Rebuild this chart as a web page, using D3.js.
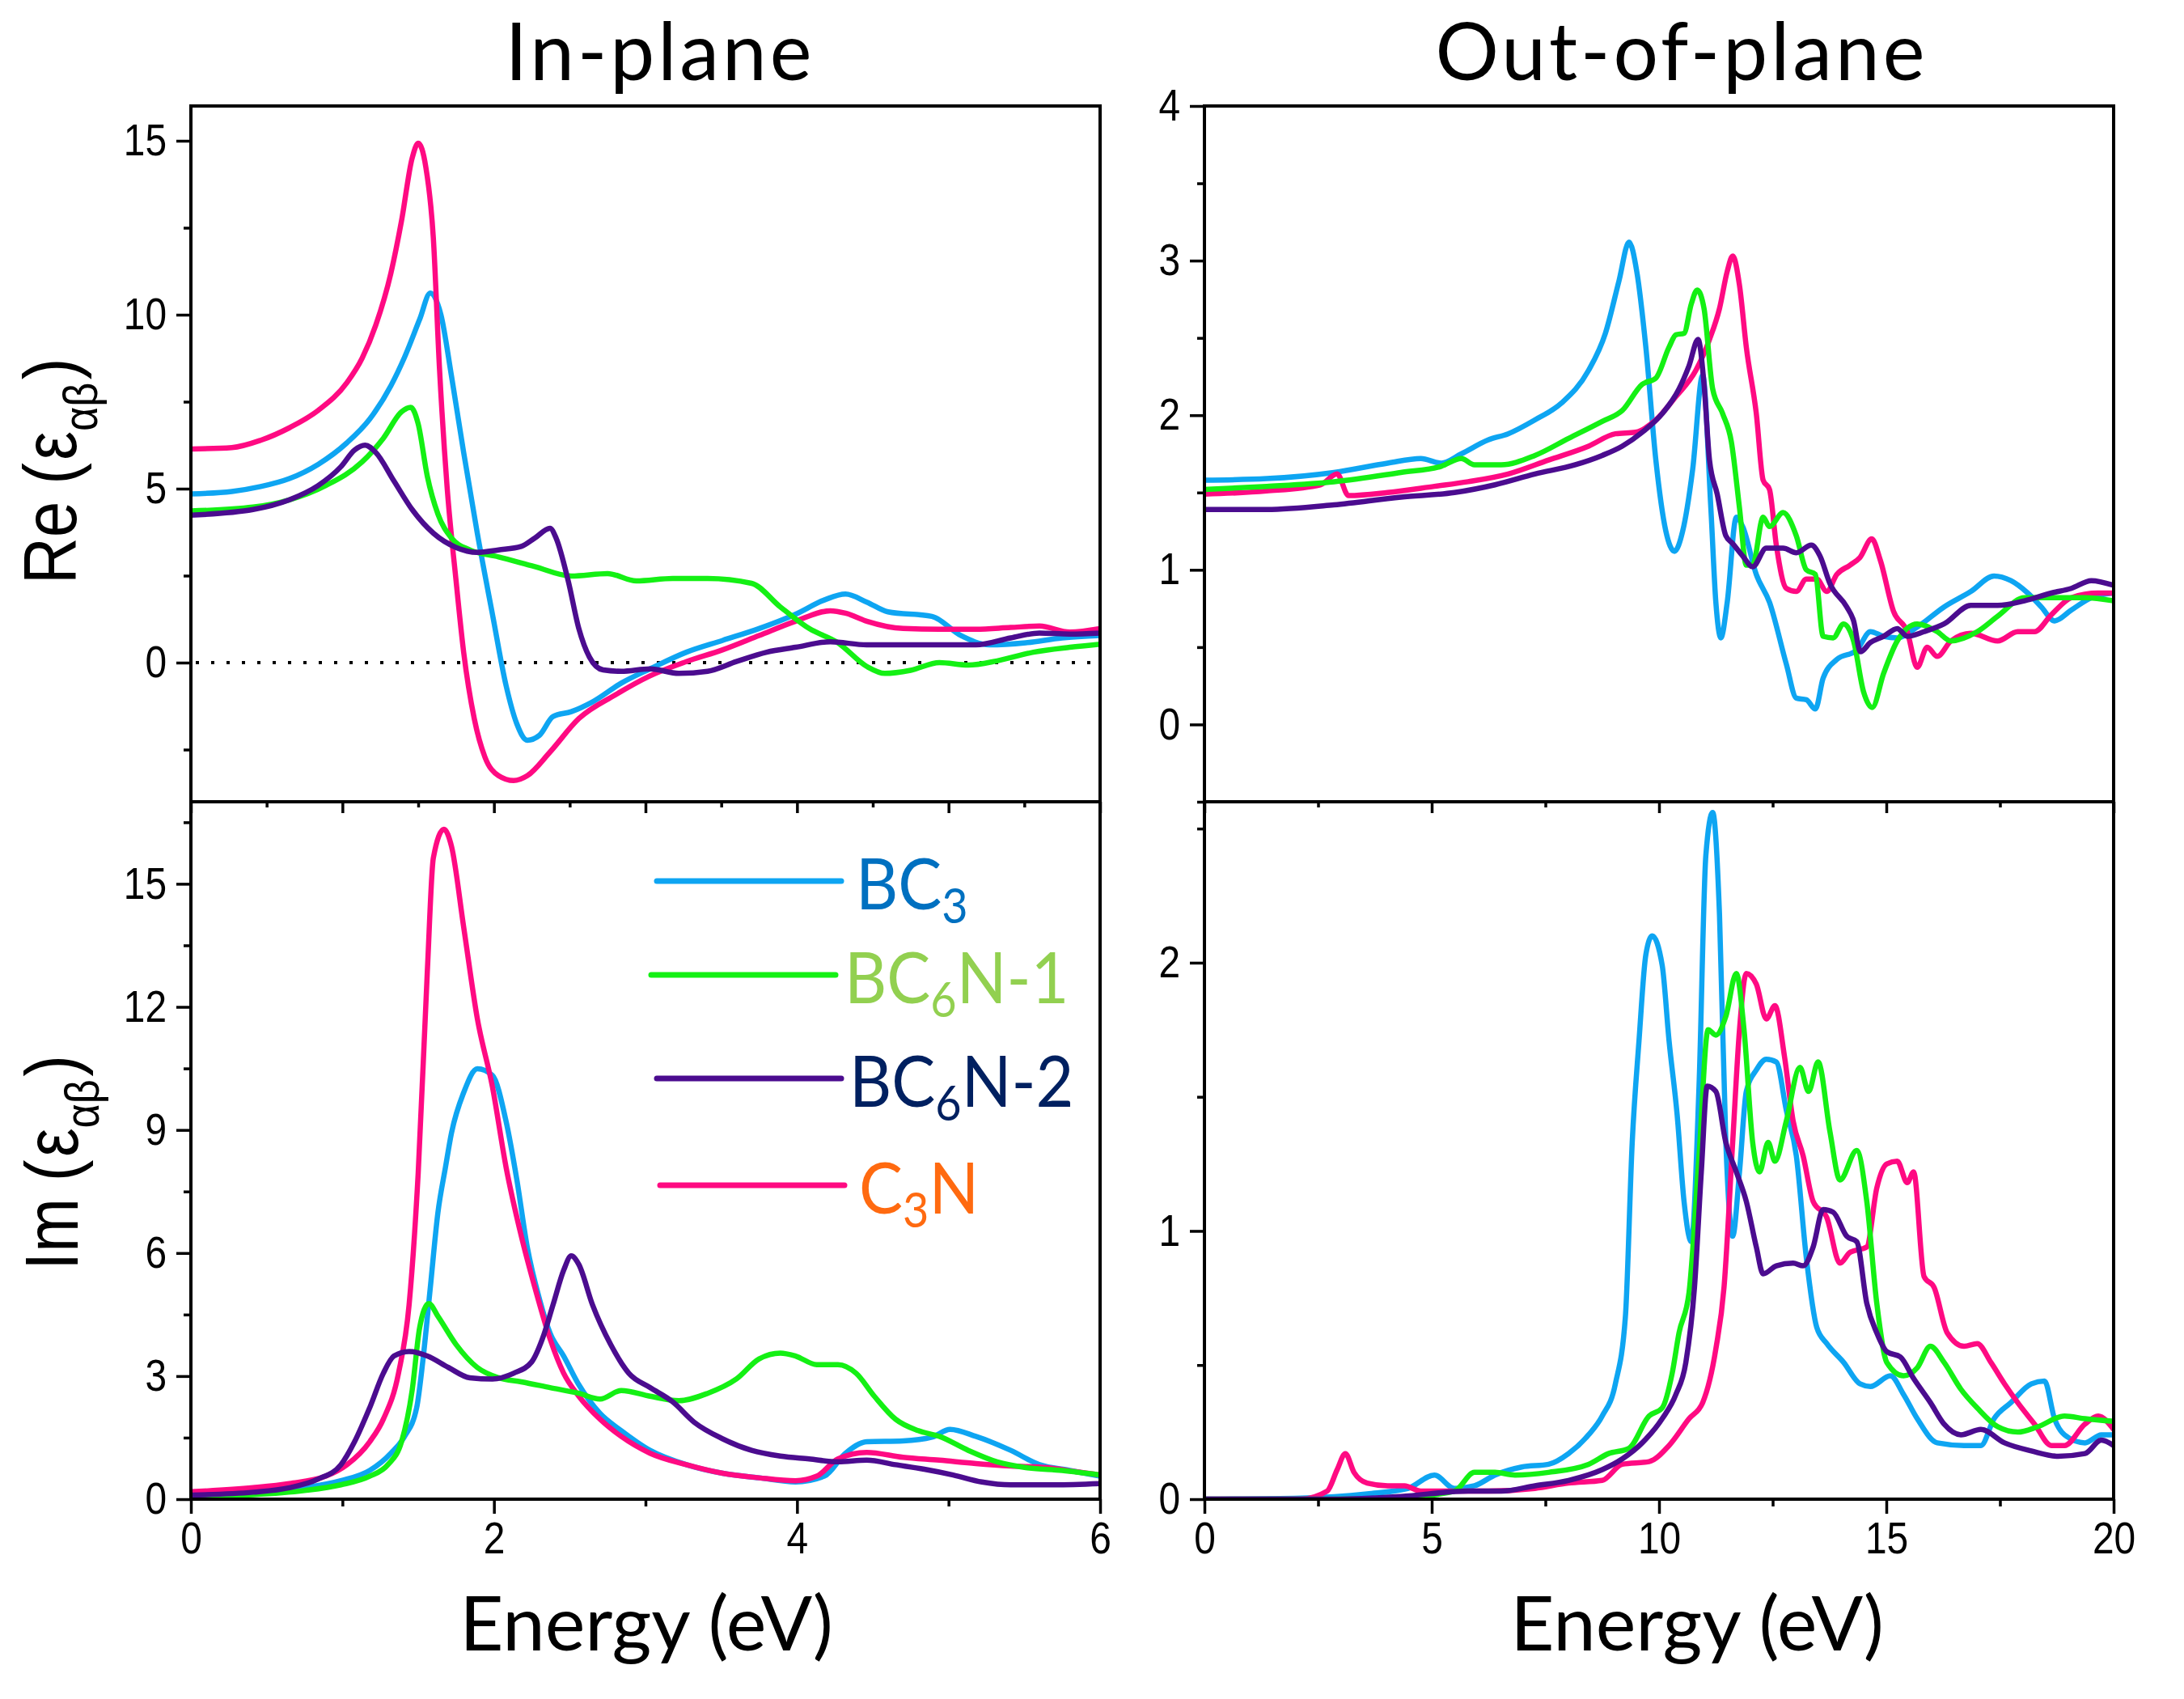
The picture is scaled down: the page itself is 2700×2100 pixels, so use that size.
<!DOCTYPE html>
<html>
<head>
<meta charset="utf-8">
<script src="https://cdn.jsdelivr.net/npm/d3@7"></script>
<style>
  body { margin: 0; background: #fff; }
  svg { display: block; }
</style>
</head>
<body>
<svg id="chart" width="2700" height="2100"></svg>
<script>
// ---- data ----
const materials = ["BC3", "BC6N-1", "BC6N-2", "C3N"];
const lineColors = { "BC3": "#0ea5f2", "BC6N-1": "#14f014", "BC6N-2": "#4b0c8f", "C3N": "#ff0a82" };
const legendColors = { "BC3": "#0070c0", "BC6N-1": "#92d050", "BC6N-2": "#002060", "C3N": "#ff6a10" };
const drawOrder = ["BC3", "C3N", "BC6N-1", "BC6N-2"];

// In-plane, real part
const reInBC3 = [[0,4.85],[0.27,4.92],[0.46,5.06],[0.65,5.29],[0.84,5.70],[1.03,6.32],[1.18,7.0],[1.32,7.96],[1.41,8.78],[1.51,9.87],[1.58,10.62],[1.65,10.0],[1.72,8.23],[1.80,6.04],[1.89,3.72],[1.99,1.39],[2.08,-0.66],[2.15,-1.75],[2.22,-2.23],[2.30,-2.09],[2.39,-1.55],[2.51,-1.41],[2.65,-1.13],[2.84,-0.59],[3.03,-0.18],[3.27,0.30],[3.51,0.64],[3.75,0.98],[3.99,1.39],[4.18,1.80],[4.32,1.97],[4.46,1.74],[4.60,1.46],[4.89,1.33],[5.08,0.78],[5.27,0.51],[5.51,0.57],[5.75,0.71],[6,0.78]];
const reInBC6N1 = [[0,4.36],[0.41,4.47],[0.65,4.68],[0.89,5.09],[1.13,5.77],[1.27,6.45],[1.39,7.21],[1.45,7.34],[1.50,6.86],[1.56,5.36],[1.63,4.27],[1.72,3.58],[1.84,3.24],[2.03,3.04],[2.27,2.76],[2.51,2.49],[2.75,2.56],[2.94,2.35],[3.18,2.42],[3.41,2.42],[3.70,2.28],[3.89,1.60],[4.08,0.98],[4.27,0.57],[4.46,-0.11],[4.58,-0.31],[4.75,-0.22],[4.94,0],[5.13,-0.07],[5.32,0.05],[5.56,0.30],[5.80,0.44],[6,0.53]];
const reInBC6N2 = [[0,4.24],[0.41,4.40],[0.65,4.68],[0.84,5.09],[0.99,5.63],[1.08,6.11],[1.15,6.25],[1.22,6.04],[1.34,5.22],[1.46,4.40],[1.60,3.72],[1.75,3.31],[1.89,3.17],[2.03,3.24],[2.18,3.34],[2.27,3.58],[2.37,3.86],[2.41,3.58],[2.49,2.35],[2.56,0.98],[2.63,0.16],[2.72,-0.21],[2.84,-0.25],[3.03,-0.18],[3.22,-0.31],[3.41,-0.25],[3.60,0.03],[3.80,0.30],[3.99,0.44],[4.22,0.60],[4.46,0.51],[4.75,0.51],[5.18,0.51],[5.41,0.71],[5.60,0.85],[5.80,0.82],[6,0.85]];
const reInC3N = [[0,6.14],[0.27,6.18],[0.46,6.39],[0.65,6.75],[0.84,7.25],[1.03,8.05],[1.13,8.75],[1.22,9.7],[1.32,11.2],[1.39,12.7],[1.46,14.5],[1.50,14.93],[1.55,14.25],[1.60,12.2],[1.64,8.5],[1.69,5.09],[1.75,2.35],[1.80,0.3],[1.87,-1.61],[1.94,-2.71],[2.03,-3.25],[2.13,-3.39],[2.22,-3.25],[2.37,-2.57],[2.56,-1.61],[2.80,-0.93],[3.03,-0.38],[3.27,0.03],[3.51,0.37],[3.75,0.78],[3.99,1.19],[4.22,1.49],[4.32,1.42],[4.46,1.19],[4.70,0.98],[4.94,0.96],[5.18,0.96],[5.41,1.01],[5.60,1.05],[5.80,0.88],[6,0.98]];

// Out-of-plane, real part
const reOutBC3 = [[0,1.58],[1.37,1.59],[2.85,1.63],[4.03,1.69],[4.76,1.72],[5.21,1.69],[5.65,1.75],[6.24,1.84],[6.68,1.88],[7.27,1.97],[7.86,2.08],[8.45,2.29],[8.82,2.53],[9.12,2.87],[9.34,3.12],[9.51,2.93],[9.71,2.44],[9.93,1.71],[10.15,1.25],[10.34,1.12],[10.52,1.25],[10.74,1.65],[10.96,2.26],[11.14,1.40],[11.25,0.79],[11.36,0.56],[11.50,0.79],[11.70,1.34],[11.84,1.28],[12.14,0.97],[12.43,0.79],[12.80,0.39],[13.02,0.17],[13.24,0.16],[13.44,0.10],[13.61,0.30],[13.91,0.42],[14.35,0.48],[14.65,0.60],[14.94,0.57],[15.24,0.56],[15.68,0.63],[16.27,0.76],[16.86,0.86],[17.37,0.96],[17.74,0.93],[18.11,0.85],[18.41,0.76],[18.70,0.67],[19.07,0.74],[19.51,0.82],[20,0.85]];
const reOutBC6N1 = [[0,1.52],[1.37,1.54],[2.85,1.57],[4.32,1.63],[5.21,1.67],[5.65,1.72],[5.94,1.68],[6.53,1.68],[7.27,1.74],[8.01,1.85],[8.75,1.96],[9.19,2.03],[9.63,2.20],[9.93,2.24],[10.22,2.44],[10.37,2.52],[10.55,2.53],[10.71,2.72],[10.84,2.81],[10.99,2.69],[11.18,2.17],[11.40,2.01],[11.59,1.83],[11.77,1.40],[11.92,1.03],[12.06,1.03],[12.29,1.34],[12.43,1.28],[12.73,1.37],[13.02,1.22],[13.24,1.00],[13.44,0.97],[13.61,0.57],[13.83,0.56],[14.06,0.65],[14.28,0.54],[14.50,0.21],[14.69,0.11],[14.94,0.33],[15.24,0.54],[15.68,0.65],[16.12,0.60],[16.42,0.54],[17.0,0.60],[17.45,0.70],[18.04,0.82],[18.78,0.82],[19.37,0.82],[20,0.80]];
const reOutBC6N2 = [[0,1.39],[1.37,1.39],[2.85,1.42],[4.32,1.47],[5.50,1.50],[6.39,1.55],[7.27,1.62],[8.16,1.68],[8.75,1.74],[9.19,1.80],[9.63,1.89],[10.07,2.01],[10.44,2.17],[10.66,2.32],[10.86,2.49],[10.99,2.20],[11.11,1.71],[11.28,1.49],[11.47,1.22],[11.62,1.17],[11.84,1.09],[12.06,1.02],[12.36,1.14],[12.73,1.14],[13.02,1.11],[13.35,1.16],[13.54,1.09],[13.76,0.91],[14.13,0.76],[14.28,0.67],[14.43,0.47],[14.65,0.53],[14.94,0.57],[15.24,0.62],[15.46,0.57],[15.83,0.60],[16.27,0.65],[16.86,0.77],[17.45,0.77],[18.04,0.80],[18.63,0.85],[19.07,0.88],[19.51,0.93],[20,0.90]];
const reOutC3N = [[0,1.49],[1.37,1.51],[2.55,1.55],[2.92,1.62],[3.17,1.48],[4.03,1.50],[5.06,1.54],[5.80,1.57],[6.68,1.62],[7.57,1.71],[8.45,1.80],[9.04,1.88],[9.48,1.89],[9.93,1.97],[10.37,2.12],[10.81,2.29],[11.11,2.49],[11.33,2.69],[11.50,2.93],[11.62,3.03],[11.77,2.84],[11.92,2.44],[12.14,2.01],[12.29,1.58],[12.43,1.52],[12.58,1.16],[12.80,0.88],[13.02,0.86],[13.24,0.94],[13.47,0.94],[13.69,0.86],[13.91,0.97],[14.20,1.03],[14.42,1.08],[14.68,1.20],[14.87,1.06],[15.16,0.73],[15.46,0.60],[15.68,0.37],[15.90,0.50],[16.12,0.44],[16.42,0.54],[16.86,0.59],[17.45,0.54],[17.89,0.60],[18.26,0.60],[18.63,0.71],[19.07,0.82],[19.66,0.85],[20,0.85]];

// In-plane, imaginary part
const imInBC3 = [[0,0.11],[0.41,0.18],[0.75,0.28],[0.99,0.45],[1.18,0.70],[1.32,1.12],[1.41,1.53],[1.49,2.23],[1.53,3.35],[1.58,5.16],[1.63,6.98],[1.68,8.09],[1.72,8.93],[1.80,9.91],[1.89,10.49],[1.99,10.33],[2.08,9.21],[2.15,7.81],[2.22,6.14],[2.30,4.88],[2.37,4.05],[2.46,3.49],[2.56,2.79],[2.70,2.09],[2.84,1.67],[3.03,1.19],[3.27,0.84],[3.51,0.63],[3.75,0.52],[3.99,0.42],[4.18,0.56],[4.32,1.12],[4.46,1.40],[4.70,1.42],[4.89,1.51],[5.01,1.70],[5.18,1.53],[5.41,1.19],[5.60,0.84],[5.80,0.70],[6,0.56]];
const imInBC6N1 = [[0,0.07],[0.41,0.11],[0.75,0.21],[0.99,0.35],[1.18,0.56],[1.30,0.84],[1.39,1.40],[1.46,2.65],[1.51,4.19],[1.57,4.77],[1.63,4.46],[1.75,3.77],[1.89,3.21],[2.03,2.96],[2.18,2.86],[2.37,2.72],[2.56,2.58],[2.70,2.44],[2.84,2.65],[3.03,2.51],[3.22,2.40],[3.41,2.58],[3.60,2.93],[3.75,3.42],[3.89,3.56],[3.99,3.49],[4.13,3.28],[4.27,3.28],[4.39,3.07],[4.51,2.51],[4.65,1.95],[4.80,1.67],[4.94,1.53],[5.13,1.19],[5.32,0.91],[5.51,0.77],[5.75,0.70],[6,0.59]];
const imInBC6N2 = [[0,0.10],[0.41,0.17],[0.65,0.28],[0.84,0.49],[0.99,0.84],[1.08,1.40],[1.18,2.23],[1.27,3.07],[1.34,3.49],[1.44,3.60],[1.56,3.49],[1.70,3.21],[1.84,2.96],[1.99,2.93],[2.13,3.07],[2.25,3.35],[2.32,3.91],[2.39,4.74],[2.46,5.58],[2.51,5.93],[2.56,5.72],[2.65,4.74],[2.77,3.77],[2.89,3.07],[3.03,2.72],[3.18,2.37],[3.32,1.88],[3.51,1.47],[3.70,1.19],[3.89,1.05],[4.08,0.98],[4.27,0.91],[4.46,0.95],[4.65,0.84],[4.84,0.73],[5.03,0.59],[5.22,0.42],[5.41,0.35],[5.70,0.35],[6,0.38]];
const imInC3N = [[0,0.18],[0.41,0.28],[0.65,0.38],[0.89,0.56],[1.03,0.84],[1.18,1.40],[1.27,1.95],[1.37,3.07],[1.44,4.74],[1.50,7.95],[1.56,12.84],[1.60,15.63],[1.67,16.33],[1.72,15.91],[1.80,13.95],[1.89,11.72],[1.99,10.05],[2.08,8.09],[2.18,6.42],[2.27,5.16],[2.37,3.91],[2.46,3.07],[2.56,2.51],[2.70,1.95],[2.84,1.53],[3.03,1.12],[3.27,0.84],[3.51,0.63],[3.75,0.52],[3.99,0.45],[4.13,0.56],[4.27,0.98],[4.46,1.14],[4.70,1.02],[4.94,0.95],[5.18,0.87],[5.41,0.81],[5.65,0.77],[5.84,0.67],[6,0.59]];

// Out-of-plane, imaginary part
const imOutBC3 = [[0,0],[2.11,0.004],[3.58,0.02],[4.47,0.04],[5.06,0.09],[5.50,0.04],[5.94,0.05],[6.39,0.09],[6.98,0.12],[7.57,0.13],[8.01,0.17],[8.45,0.24],[8.75,0.31],[9.04,0.43],[9.26,0.68],[9.41,1.33],[9.56,1.71],[9.71,2.03],[9.85,2.10],[10.07,1.99],[10.22,1.71],[10.40,1.43],[10.55,1.11],[10.71,0.96],[10.88,1.54],[11.03,2.40],[11.18,2.56],[11.33,2.18],[11.47,1.33],[11.62,0.98],[11.77,1.22],[11.92,1.52],[12.14,1.60],[12.36,1.64],[12.58,1.63],[12.80,1.45],[13.02,1.28],[13.24,0.90],[13.47,0.64],[13.69,0.58],[14.06,0.51],[14.42,0.43],[14.65,0.42],[15.09,0.46],[15.38,0.39],[15.68,0.30],[16.12,0.21],[16.71,0.20],[17.08,0.20],[17.37,0.30],[17.74,0.36],[18.19,0.43],[18.48,0.44],[18.70,0.30],[18.92,0.24],[19.37,0.21],[19.73,0.24],[20,0.24]];
const imOutBC6N1 = [[0,0],[2.85,0],[4.32,0.005],[5.50,0.03],[5.94,0.10],[6.39,0.10],[6.83,0.09],[7.57,0.10],[8.45,0.13],[8.89,0.17],[9.34,0.19],[9.78,0.31],[10.07,0.34],[10.29,0.47],[10.44,0.62],[10.66,0.77],[10.88,1.28],[11.08,1.75],[11.25,1.73],[11.47,1.80],[11.70,1.96],[11.87,1.75],[12.06,1.33],[12.21,1.22],[12.40,1.33],[12.55,1.26],[12.80,1.41],[13.10,1.61],[13.29,1.52],[13.50,1.63],[13.76,1.37],[13.98,1.19],[14.35,1.30],[14.57,1.11],[14.79,0.73],[15.01,0.51],[15.38,0.46],[15.68,0.49],[15.97,0.57],[16.27,0.51],[16.64,0.41],[17.0,0.34],[17.45,0.27],[17.89,0.25],[18.33,0.27],[18.92,0.31],[19.37,0.30],[20,0.29]];
const imOutBC6N2 = [[0,0],[2.85,0],[4.32,0.01],[5.80,0.03],[6.53,0.03],[7.27,0.05],[8.01,0.07],[8.75,0.11],[9.19,0.15],[9.63,0.21],[10.07,0.30],[10.37,0.39],[10.59,0.51],[10.78,0.79],[10.93,1.22],[11.06,1.54],[11.25,1.52],[11.47,1.33],[11.70,1.22],[11.92,1.11],[12.14,0.94],[12.29,0.84],[12.58,0.87],[12.95,0.88],[13.17,0.87],[13.39,0.94],[13.61,1.08],[13.83,1.07],[14.13,0.98],[14.35,0.96],[14.57,0.73],[14.79,0.62],[15.01,0.55],[15.31,0.53],[15.60,0.45],[15.97,0.36],[16.27,0.28],[16.64,0.24],[17.08,0.26],[17.60,0.21],[18.19,0.18],[18.78,0.16],[19.37,0.17],[19.73,0.22],[20,0.20]];
const imOutC3N = [[0,0],[2.11,0],[2.70,0.03],[2.92,0.11],[3.10,0.17],[3.29,0.10],[3.58,0.06],[4.03,0.05],[4.40,0.05],[4.76,0.03],[5.50,0.03],[6.24,0.03],[7.27,0.04],[8.01,0.06],[8.75,0.07],[9.19,0.13],[9.78,0.14],[10.22,0.20],[10.66,0.30],[10.96,0.36],[11.25,0.56],[11.43,0.79],[11.62,1.33],[11.77,1.75],[11.92,1.96],[12.14,1.92],[12.36,1.79],[12.55,1.84],[12.76,1.65],[12.95,1.41],[13.17,1.28],[13.39,1.11],[13.69,1.05],[13.98,0.88],[14.20,0.92],[14.57,0.94],[14.79,1.16],[15.01,1.25],[15.24,1.26],[15.46,1.18],[15.60,1.22],[15.83,0.83],[16.05,0.79],[16.34,0.62],[16.71,0.57],[17.0,0.58],[17.30,0.51],[17.60,0.43],[17.89,0.36],[18.26,0.28],[18.63,0.20],[18.92,0.20],[19.37,0.28],[19.66,0.31],[20,0.26]];

// ticks
const inPlaneXLabels = [0, 2, 4, 6];
const outPlaneXLabels = [0, 5, 10, 15, 20];
const reInYLabels = [0, 5, 10, 15];
const imInYLabels = [0, 3, 6, 9, 12, 15];
const reOutYLabels = [0, 1, 2, 3, 4];
const imOutYLabels = [0, 1, 2];

// ---- layout ----
const svg = d3.select("#chart");
const colL = [236, 1360], colR = [1489, 2613];
const rowT = [131, 991], rowB = [991, 1853];
const tickFont = "'Liberation Sans Narrow', 'Arial Narrow', 'Liberation Sans', Arial, sans-serif";
const titleFont = "Lato, 'Open Sans', sans-serif";
const narrow = 0.87;   // squeeze to look like Arial Narrow

const panels = [
  { key: "reIn", cols: colL, rows: rowT, xDom: [0, 6], yDom: [-4, 16],
    series: { "BC3": reInBC3, "BC6N-1": reInBC6N1, "BC6N-2": reInBC6N2, "C3N": reInC3N },
    xMajor: d3.range(0, 6.01, 1), xMinor: d3.range(0.5, 6, 1), xLabels: null,
    yMajor: reInYLabels, yMinor: [-2.5, 2.5, 7.5, 12.5], zeroLine: true },
  { key: "reOut", cols: colR, rows: rowT, xDom: [0, 20], yDom: [-0.5, 4],
    series: { "BC3": reOutBC3, "BC6N-1": reOutBC6N1, "BC6N-2": reOutBC6N2, "C3N": reOutC3N },
    xMajor: [0, 5, 10, 15, 20], xMinor: [2.5, 7.5, 12.5, 17.5], xLabels: null,
    yMajor: reOutYLabels, yMinor: [-0.5, 0.5, 1.5, 2.5, 3.5] },
  { key: "imIn", cols: colL, rows: rowB, xDom: [0, 6], yDom: [0, 17],
    series: { "BC3": imInBC3, "BC6N-1": imInBC6N1, "BC6N-2": imInBC6N2, "C3N": imInC3N },
    xMajor: inPlaneXLabels, xMinor: [1, 3, 5], xLabels: inPlaneXLabels,
    yMajor: imInYLabels, yMinor: [1.5, 4.5, 7.5, 10.5, 13.5, 16.5] },
  { key: "imOut", cols: colR, rows: rowB, xDom: [0, 20], yDom: [0, 2.6],
    series: { "BC3": imOutBC3, "BC6N-1": imOutBC6N1, "BC6N-2": imOutBC6N2, "C3N": imOutC3N },
    xMajor: outPlaneXLabels, xMinor: [2.5, 7.5, 12.5, 17.5], xLabels: outPlaneXLabels,
    yMajor: imOutYLabels, yMinor: [0.5, 1.5, 2.5] }
];

panels.forEach(p => {
  const x = d3.scaleLinear().domain(p.xDom).range(p.cols);
  const y = d3.scaleLinear().domain(p.yDom).range([p.rows[1], p.rows[0]]);
  const g = svg.append("g").attr("class", p.key);

  g.append("clipPath").attr("id", "clip-" + p.key)
    .append("rect")
    .attr("x", p.cols[0]).attr("y", p.rows[0])
    .attr("width", p.cols[1] - p.cols[0]).attr("height", p.rows[1] - p.rows[0]);

  if (p.zeroLine) {
    g.append("line")
      .attr("x1", p.cols[0] + 6).attr("x2", p.cols[1])
      .attr("y1", y(0)).attr("y2", y(0))
      .attr("stroke", "#000").attr("stroke-width", 4)
      .attr("stroke-dasharray", "4,15");
  }

  const line = d3.line()
    .x(d => x(d[0]))
    .y(d => y(d[1]))
    .curve(d3.curveMonotoneX);

  const lines = g.append("g").attr("clip-path", `url(#clip-${p.key})`);
  drawOrder.forEach(m => {
    lines.append("path")
      .datum(p.series[m])
      .attr("d", line)
      .attr("fill", "none")
      .attr("stroke", lineColors[m])
      .attr("stroke-width", 6.5)
      .attr("stroke-linejoin", "round")
      .attr("stroke-linecap", "round");
  });

  // y axis: major with labels, minor without
  g.append("g").attr("transform", `translate(${p.cols[0]},0)`)
    .call(d3.axisLeft(y).tickValues(p.yMajor).tickSize(18).tickPadding(12).tickFormat(d3.format("d")));
  g.append("g").attr("transform", `translate(${p.cols[0]},0)`)
    .call(d3.axisLeft(y).tickValues(p.yMinor).tickSize(9).tickFormat(""));

  // x axis at the bottom of each panel
  g.append("g").attr("transform", `translate(0,${p.rows[1]})`)
    .call(d3.axisBottom(x).tickValues(p.xMajor).tickSize(p.xLabels ? 18 : 14).tickPadding(10)
      .tickFormat(p.xLabels ? d3.format("d") : ""));
  g.append("g").attr("transform", `translate(0,${p.rows[1]})`)
    .call(d3.axisBottom(x).tickValues(p.xMinor).tickSize(p.xLabels ? 9 : 7).tickFormat(""));

  g.selectAll(".domain").remove();
  g.selectAll(".tick line").attr("stroke", "#000").attr("stroke-width", 3.5);
  g.selectAll(".tick text")
    .style("font-family", tickFont)
    .style("font-size", "55px")
    .attr("fill", "#000")
    .each(function () {
      const t = d3.select(this);
      const tx = +t.attr("x") || 0;
      t.attr("x", tx / narrow).attr("transform", `scale(${narrow},1)`);
    });

  // frame
  g.append("rect")
    .attr("x", p.cols[0]).attr("y", p.rows[0])
    .attr("width", p.cols[1] - p.cols[0]).attr("height", p.rows[1] - p.rows[0])
    .attr("fill", "none").attr("stroke", "#000").attr("stroke-width", 4);
});

// ---- titles ----
svg.append("text").attr("x", 816).attr("y", 99).attr("text-anchor", "middle")
  .style("font-family", titleFont).style("font-size", "98px").style("letter-spacing", "4px")
  .text("In-plane");
svg.append("text").attr("x", 2079).attr("y", 99).attr("text-anchor", "middle")
  .style("font-family", titleFont).style("font-size", "98px").style("letter-spacing", "4px")
  .text("Out-of-plane");

svg.append("text").attr("x", 799).attr("y", 2040).attr("text-anchor", "middle")
  .style("font-family", titleFont).style("font-size", "94px").text("Energy (eV)");
svg.append("text").attr("x", 2098).attr("y", 2040).attr("text-anchor", "middle")
  .style("font-family", titleFont).style("font-size", "94px").text("Energy (eV)");

// y axis titles: Re(ε_αβ), Im(ε_αβ)
function yTitle(prefix, tx, ty) {
  const t = svg.append("text")
    .attr("transform", `translate(${tx},${ty}) rotate(-90) scale(${narrow},1)`)
    .style("font-family", tickFont).style("font-size", "92px");
  t.append("tspan").text(prefix);
  t.append("tspan").attr("dx", 24).text("(");
  t.append("tspan").attr("dx", 4).text("ε");
  t.append("tspan").attr("dy", 26).style("font-size", "60px").text("αβ");
  t.append("tspan").attr("dy", -26).attr("dx", 4).text(")");
}
yTitle("Re", 94, 722);
yTitle("Im", 96, 1570);

// ---- legend ----
const legendRows = [
  { m: "BC3", parts: [["BC", 0], ["3", 1]], y: 1089, x0: 812, x1: 1040, tx: 1058 },
  { m: "BC6N-1", parts: [["BC", 0], ["6", 1], ["N-1", 0]], y: 1205, x0: 805, x1: 1033, tx: 1044 },
  { m: "BC6N-2", parts: [["BC", 0], ["6", 1], ["N-2", 0]], y: 1333, x0: 812, x1: 1040, tx: 1050 },
  { m: "C3N", parts: [["C", 0], ["3", 1], ["N", 0]], y: 1465, x0: 816, x1: 1044, tx: 1062 }
];
const legend = svg.append("g").attr("class", "legend");
legendRows.forEach(r => {
  legend.append("line")
    .attr("x1", r.x0).attr("x2", r.x1).attr("y1", r.y).attr("y2", r.y)
    .attr("stroke", lineColors[r.m]).attr("stroke-width", 7).attr("stroke-linecap", "round");
  const t = legend.append("text")
    .attr("transform", `translate(${r.tx},${r.y + 35}) scale(0.93,1)`)
    .attr("fill", legendColors[r.m])
    .style("font-family", titleFont).style("font-size", "87px");
  let shift = 0;
  r.parts.forEach(([s, sub]) => {
    const want = sub ? 17 : 0;
    t.append("tspan").attr("dy", want - shift)
      .style("font-size", sub ? "60px" : "87px").text(s);
    shift = want;
  });
});
</script>
</body>
</html>
